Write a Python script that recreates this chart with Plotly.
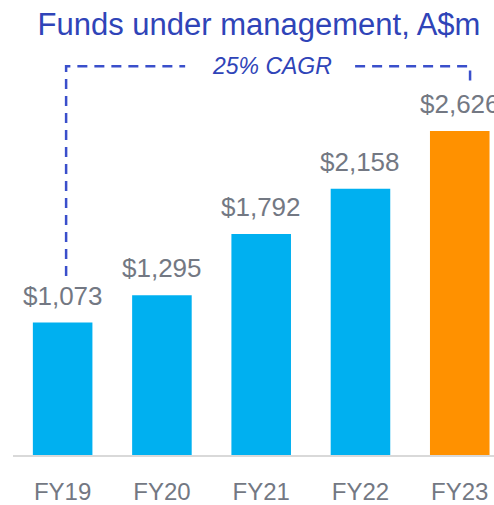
import plotly.graph_objects as go

# Datos
years = ["FY19", "FY20", "FY21", "FY22", "FY23"]
fum = [1073, 1295, 1792, 2158, 2626]
bar_colors = ["#00B0F0", "#00B0F0", "#00B0F0", "#00B0F0", "#FF9100"]
title_text = "Funds under management, A$m"
cagr_text = "25% CAGR"

FONT = "Liberation Sans, Arial, sans-serif"
BLUE_TXT = "#2F44B8"
DASH_BLUE = "#3A4FCB"
GREY = "#737883"

W, H = 494, 505

fig = go.Figure()

fig.add_trace(go.Bar(
    x=years,
    y=fum,
    marker=dict(color=bar_colors, line=dict(width=0)),
    width=0.6,
    hoverinfo="x+y",
))

# Etiquetas de valor encima de cada barra
for x, v in zip(years, fum):
    fig.add_annotation(
        x=x, y=v, text=f"${v:,}",
        showarrow=False, yanchor="bottom", yshift=10,
        font=dict(family=FONT, size=26, color=GREY),
    )

# Corchete punteado del CAGR
y_top = 3150
fig.add_shape(
    type="path",
    path=f"M 0.035,1450 L 0.035,{y_top} L 1.234,{y_top}",
    line=dict(color=DASH_BLUE, width=2.5, dash="10px,7px"),
    xref="x", yref="y",
)
fig.add_shape(
    type="path",
    path=f"M 2.946,{y_top} L 4.104,{y_top} L 4.104,3000",
    line=dict(color=DASH_BLUE, width=2.5, dash="10px,7px"),
    xref="x", yref="y",
)
fig.add_annotation(
    x=2.107, y=y_top, text=f"<i>{cagr_text}</i>",
    showarrow=False, yanchor="middle", xanchor="center",
    font=dict(family=FONT, size=23, color=BLUE_TXT),
)

fig.update_layout(
    width=W,
    height=H,
    margin=dict(l=13, r=0, t=0, b=48),
    paper_bgcolor="white",
    plot_bgcolor="white",
    showlegend=False,
    title=dict(
        text=title_text,
        x=259 / W, xref="container", xanchor="center",
        y=1 - 24 / H, yref="container", yanchor="middle",
        font=dict(family=FONT, size=31, color=BLUE_TXT),
    ),
    xaxis=dict(
        range=[-0.5, 4.345],
        showgrid=False,
        showline=True,
        linecolor="#D9D9D9",
        linewidth=1.5,
        ticks="",
        ticklabelstandoff=14,
        tickfont=dict(family=FONT, size=24, color=GREY),
        fixedrange=True,
    ),
    yaxis=dict(
        range=[0, 3688],
        visible=False,
        showgrid=False,
        zeroline=False,
        fixedrange=True,
    ),
)

# Quitar el margen por defecto del body para que la figura llene la ventana
fig.write_html(
    "out.html",
    config={"displayModeBar": False},
    post_script="document.body.style.margin='0';",
)
